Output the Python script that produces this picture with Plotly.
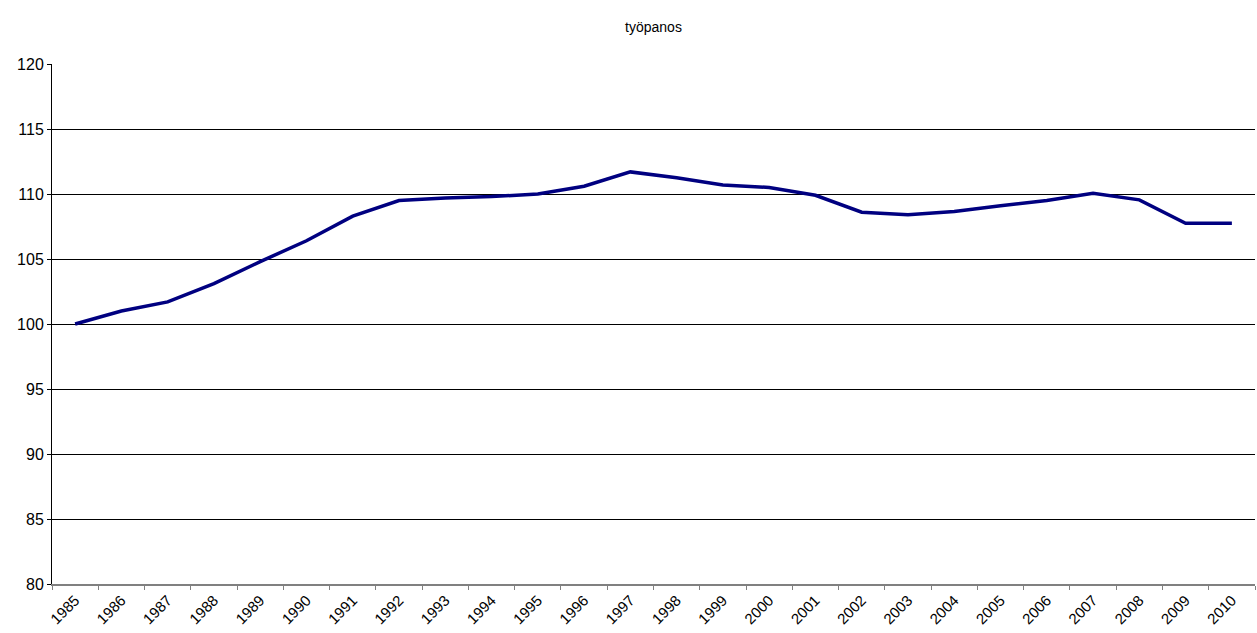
import plotly.graph_objects as go

years = [str(y) for y in range(1985, 2011)]
tyopanos = [100.0, 101.0, 101.7, 103.1, 104.8, 106.4, 108.3, 109.5, 109.7, 109.8,
            110.0, 110.6, 111.7, 111.25, 110.7, 110.5, 109.9, 108.6, 108.4, 108.65,
            109.1, 109.5, 110.05, 109.55, 107.75, 107.75]

fig = go.Figure(go.Scatter(
    x=years, y=tyopanos, mode="lines",
    line=dict(color="#000080", width=3.5),
    showlegend=False,
))

font = dict(family="Liberation Sans, Arial, sans-serif", color="#000000")

fig.update_layout(
    width=1257, height=633,
    margin=dict(l=52, r=2, t=64, b=49),
    paper_bgcolor="white", plot_bgcolor="white",
    font=font,
    title=dict(text="työpanos", x=0.5, xref="paper", xanchor="center",
               y=1 - 27 / 633, yref="container", yanchor="middle",
               font=dict(size=14, **font)),
    xaxis=dict(
        type="category", tickson="boundaries", ticks="outside", ticklen=4,
        tickcolor="#808080", tickangle=-45, showgrid=False,
        showline=True, linecolor="#808080", linewidth=1.5,
        tickfont=dict(size=15), range=[-0.5, 25.5],
    ),
    yaxis=dict(
        range=[80, 120], dtick=5, ticks="outside", ticklen=4,
        tickcolor="#000000", showgrid=True, gridcolor="#000000", gridwidth=1,
        showline=True, linecolor="#000000", linewidth=1, zeroline=False,
        tickfont=dict(size=16),
    ),
)

fig.write_html("out.html")
